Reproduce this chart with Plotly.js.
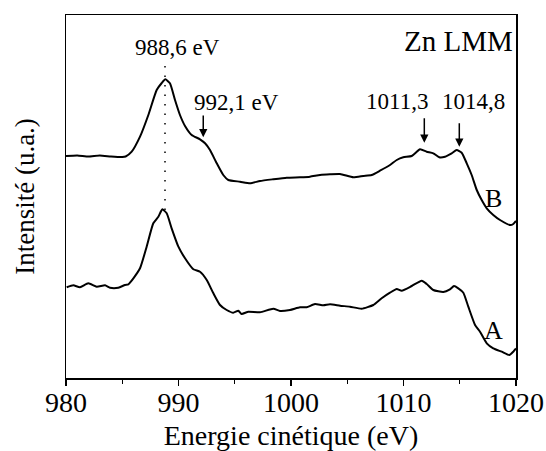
<!DOCTYPE html>
<html>
<head>
<meta charset="utf-8">
<script src="https://cdn.plot.ly/plotly-3.0.1.min.js"></script>
<style>html,body{margin:0;padding:0;background:#fff;}#chart{width:546px;height:451px;}</style>
</head>
<body>
<div id="chart"></div>
<script>
// Spectrum B (upper curve), kinetic energy (eV) and intensity (arbitrary units)
const energyB = [980.0, 981.0, 982.0, 983.0, 984.0, 985.0, 985.3, 985.84, 986.58, 987.32, 988.06, 988.51, 988.83, 989.24, 989.69, 990.13, 990.58, 991.17, 991.91, 992.36, 992.8, 993.4, 993.98, 994.43, 995.47, 996.36, 997.24, 998.4, 999.62, 1000.8, 1001.69, 1002.58, 1003.47, 1004.36, 1005.54, 1006.43, 1007.17, 1007.91, 1008.8, 1009.4, 1009.98, 1010.73, 1011.47, 1012.06, 1012.65, 1013.18, 1013.69, 1014.28, 1014.73, 1015.17, 1015.62, 1016.06, 1016.51, 1016.95, 1017.4, 1017.98, 1018.58, 1019.47, 1019.76, 1020.0];
const intensB = [222, 222.5, 221.5, 222.5, 221.5, 221, 221.5, 226.3, 241.3, 263, 288, 295, 298.7, 294.7, 278, 263, 252, 243, 238.7, 234.7, 228, 214.7, 203, 198, 196.3, 194.7, 197, 198.7, 200.3, 200.7, 201.3, 203, 203.7, 204, 200.7, 202, 203, 207.3, 213, 218, 220.7, 222, 228.7, 226.3, 224.7, 220.7, 221.3, 224.7, 228, 225.3, 214.7, 203, 188, 178, 169.7, 163, 158, 153, 154, 157];

// Spectrum A (lower curve)
const energyA = [980.06, 980.65, 981.24, 981.98, 982.73, 983.47, 983.91, 984.65, 985.24, 985.54, 985.99, 986.58, 987.17, 987.76, 988.21, 988.56, 988.95, 989.39, 989.99, 990.58, 991.32, 991.91, 992.51, 993.1, 993.69, 994.28, 994.87, 995.32, 995.61, 996.21, 997.24, 998.43, 999.02, 999.91, 1000.8, 1001.39, 1002.13, 1002.87, 1003.47, 1004.36, 1005.24, 1006.28, 1007.32, 1008.06, 1008.8, 1009.4, 1009.84, 1010.73, 1011.62, 1012.06, 1012.65, 1013.54, 1014.13, 1014.49, 1014.87, 1015.32, 1015.76, 1016.36, 1016.8, 1017.4, 1017.98, 1018.73, 1019.41, 1019.76, 1020.0];
const intensA = [90.7, 92.7, 90.7, 94.7, 91.3, 92.7, 90.3, 90.3, 93, 93.7, 99.7, 109.7, 131.3, 154.7, 161.3, 168.7, 164.7, 149.7, 131.3, 119.7, 108.7, 106.3, 98, 84.7, 73, 68, 65.3, 67.3, 64, 66.3, 65.7, 69.3, 67, 68, 70.7, 70.7, 74, 72.7, 73.7, 72.3, 71.3, 69.3, 73, 79.7, 85.3, 89, 87.3, 92, 97.3, 94, 88, 86, 88.7, 92, 89.7, 85.3, 71.3, 53, 46.3, 34.7, 29.7, 26.3, 23, 26.3, 29.5];

// Peak marker (dotted line) and arrows: energy, arrow tip intensity, arrow tail intensity
const peakLineX = [988.8, 988.8];
const peakLineY = [312, 161];
const arrowX = [992.2, 1011.85, 1014.96];
const arrowTip = [240.7, 235.3, 231.3];
const arrowTail = [264, 261.3, 256.3];

// Text labels
const labelText = ["988,6 eV", "992,1 eV", "1011,3", "1014,8"];
const labelX = [989.9, 995.16, 1009.42, 1016.18];
const labelY = [331, 275.5, 277, 277];

const xTickVals = [980, 990, 1000, 1010, 1020];

const FONT = "Liberation Serif, Times New Roman, serif";

const traces = [
  {x: energyB, y: intensB, mode: 'lines', line: {color: '#000', width: 2, shape: 'spline', smoothing: 0.5}, showlegend: false, hoverinfo: 'skip'},
  {x: energyA, y: intensA, mode: 'lines', line: {color: '#000', width: 2, shape: 'spline', smoothing: 0.5}, showlegend: false, hoverinfo: 'skip'},
  {x: peakLineX, y: peakLineY, mode: 'lines', line: {color: '#000', width: 1.5, dash: '1.5px,8px'}, showlegend: false, hoverinfo: 'skip'}
];

const annotations = [];
for (let i = 0; i < arrowX.length; i++) {
  annotations.push({
    x: arrowX[i], y: arrowTip[i], xref: 'x', yref: 'y',
    ax: arrowX[i], ay: arrowTail[i], axref: 'x', ayref: 'y',
    text: '', showarrow: true, arrowhead: 2, arrowsize: 1.1, arrowwidth: 1.5, arrowcolor: '#000'
  });
}
for (let i = 0; i < labelText.length; i++) {
  annotations.push({
    x: labelX[i], y: labelY[i], xref: 'x', yref: 'y', text: labelText[i], showarrow: false,
    font: {family: FONT, size: 23, color: '#000'}
  });
}
annotations.push({x: 1014.89, y: 337, xref: 'x', yref: 'y', text: 'Zn LMM', showarrow: false, font: {family: FONT, size: 29, color: '#000'}});
annotations.push({x: 1018.04, y: 180, xref: 'x', yref: 'y', text: 'B', showarrow: false, font: {family: FONT, size: 26, color: '#000'}});
annotations.push({x: 1018.04, y: 48, xref: 'x', yref: 'y', text: 'A', showarrow: false, font: {family: FONT, size: 26, color: '#000'}});

const layout = {
  width: 546, height: 451,
  margin: {l: 66, r: 30, t: 15, b: 73},
  paper_bgcolor: '#fff', plot_bgcolor: '#fff',
  font: {family: FONT, color: '#000'},
  showlegend: false,
  xaxis: {
    range: [980, 1020], tickvals: xTickVals, ticktext: xTickVals.map(String),
    ticks: 'outside', ticklen: 6, tickwidth: 1.5, tickcolor: '#000',
    ticklabelstandoff: -7,
    minor: {dtick: 5, ticks: 'outside', ticklen: 4, tickwidth: 1.2, tickcolor: '#000', showgrid: false},
    showline: true, linecolor: '#000', linewidth: 1.5, mirror: true,
    showgrid: false, zeroline: false,
    tickfont: {family: FONT, size: 28, color: '#000'},
    title: {text: 'Energie cinétique (eV)', font: {family: FONT, size: 28, color: '#000'}, standoff: 8}
  },
  yaxis: {
    range: [0, 363], showticklabels: false, ticks: '',
    showline: true, linecolor: '#000', linewidth: 1.5, mirror: true,
    showgrid: false, zeroline: false,
    title: {text: 'Intensité (u.a.)', font: {family: FONT, size: 27, color: '#000'}, standoff: 22}
  },
  annotations: annotations
};

Plotly.newPlot('chart', traces, layout, {staticPlot: true, displayModeBar: false});
</script>
</body>
</html>
